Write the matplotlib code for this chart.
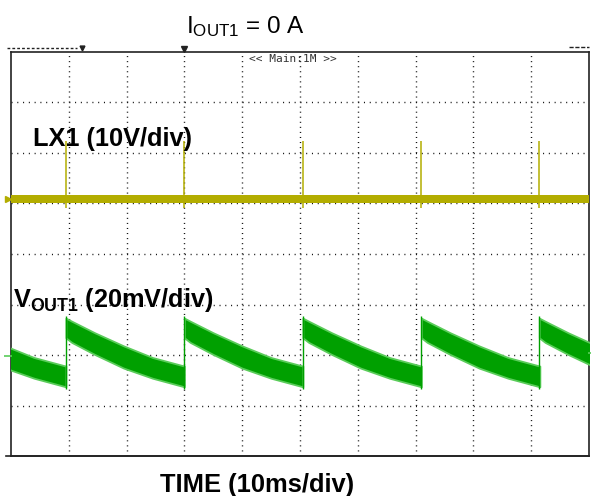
import numpy as np
import matplotlib
matplotlib.use("Agg")
import matplotlib.pyplot as plt

plt.rcParams['font.family'] = ['Liberation Sans', 'DejaVu Sans']
plt.rcParams['mathtext.fontset'] = 'custom'
plt.rcParams['mathtext.rm'] = 'Liberation Sans'
plt.rcParams['mathtext.bf'] = 'Liberation Sans:bold'
plt.rcParams['lines.scale_dashes'] = False

# time axis: 10 div x 10 ms, vertical: 8 div
n_xdiv = 10
n_ydiv = 8
ms_per_div = 10

# LX1 switching pulses (ms) and levels (div)
spike_times = [9.5, 30.0, 50.5, 71.0, 91.4]
lx1_low = 5.01
lx1_high = 5.17
spike_top = 6.24
spike_bottom = 4.91

# VOUT1 ripple: one cycle envelope, offset from each jump (ms) -> top/bottom (div)
ripple_offset = [0.0, 1.0, 5.0, 10.0, 15.0, 20.5]
ripple_top = [2.73, 2.67, 2.44, 2.18, 1.95, 1.78]
ripple_bottom = [2.34, 2.25, 2.01, 1.74, 1.54, 1.37]
period = 20.5

fig = plt.figure(figsize=(5.91, 4.96), dpi=100)
ax = fig.add_axes([11 / 591, 40 / 496, 578 / 591, 404 / 496])
ax.set_xlim(0, n_xdiv * ms_per_div)
ax.set_ylim(0, n_ydiv)
ax.set_xticks([])
ax.set_yticks([])
for s in ax.spines.values():
    s.set_color('#222222')
    s.set_linewidth(1.2)

# dotted graticule
for i in range(1, n_xdiv):
    ax.axvline(i * ms_per_div, color='#111111', lw=1.0, dashes=(0.75, 2.89), zorder=1)
for j in range(1, n_ydiv):
    ax.axhline(j, color='#111111', lw=1.0, dashes=(0.75, 3.41), zorder=1)

# LX1 trace
yellow = '#b3ad00'
ax.fill_between([0, 100], [lx1_low] * 2, [lx1_high] * 2, color=yellow, lw=0, zorder=3)
ax.vlines(spike_times, spike_bottom, spike_top, color=yellow, lw=1.1, zorder=3)

# VOUT1 trace
dark_green = '#00a000'
light_green = '#5acc5a'
starts = [spike_times[0] - period] + spike_times
for s in starts:
    t = np.array(ripple_offset) + s
    ax.fill_between(t, ripple_bottom, ripple_top, color=dark_green,
                    edgecolor=light_green, lw=1.3, zorder=3)
for s in spike_times:
    ax.vlines(s, ripple_bottom[-1] - 0.05, ripple_top[0] + 0.04, color=dark_green, lw=1.0, zorder=3)

# scope markers
ax.plot([-0.6], [(lx1_low + lx1_high) / 2], marker='>', ms=5, color=yellow, clip_on=False, zorder=4)
ax.plot([-0.6], [1.98], marker='_', ms=6, mew=1.2, color=light_green, clip_on=False, zorder=4)
ax.plot([100.3], [2.04], marker='_', ms=5, mew=1.2, color=light_green, clip_on=False, zorder=4)
ax.plot([29.9], [8.05], marker='v', ms=4, color='#222222', clip_on=False, zorder=4)
ax.plot([-0.9, 100], [0, 0], color='#222222', lw=1.2, clip_on=False, zorder=4)
ax.plot([-0.7, 11.5], [8.08, 8.08], color='#222222', lw=1.0, dashes=(2, 1.5), clip_on=False)
ax.plot([12.3], [8.08], marker='v', ms=3.5, color='#222222', clip_on=False)
ax.plot([96.5, 100], [8.1, 8.1], color='#222222', lw=1.0, dashes=(3, 1.2), clip_on=False)
ax.text(41.2, 7.86, '<< Main:1M >>', family='DejaVu Sans Mono', fontsize=8,
        color='#333333', ha='left', va='center')

# labels
ax.text(3.8, 6.14, 'LX1 (10V/div)', fontsize=18.3, fontweight='bold', ha='left', va='baseline', zorder=5)
ax.text(0.3, 2.95, r'$\mathbf{V_{OUT1}}$ (20mV/div)', fontsize=18.2, fontweight='bold',
        ha='left', va='baseline', zorder=5)
fig.text(245 / 591, 1 - 33 / 496, r'$\mathrm{I_{OUT1}}$ = 0 A', fontsize=17.5, ha='center', va='baseline')
fig.text(257.5 / 591, 1 - 492 / 496, 'TIME (10ms/div)', fontsize=18.4, fontweight='bold',
         ha='center', va='baseline')

fig.savefig('out.png', dpi=100)
